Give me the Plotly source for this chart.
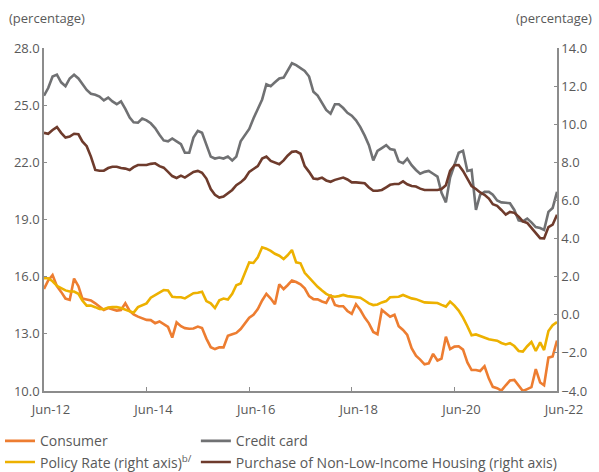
import pandas as pd
import plotly.graph_objects as go

# monthly, Jun-2012 .. Jun-2022
dates = pd.date_range("2012-06-01", periods=121, freq="MS")

# left axis (%)
consumer = [15.35, 15.8, 16.08, 15.5, 15.2, 14.85, 14.78, 15.9, 15.5, 14.85,
            14.8, 14.75, 14.6, 14.43, 14.25, 14.35, 14.3, 14.22, 14.25, 14.6,
            14.2, 14.02, 13.9, 13.8, 13.73, 13.72, 13.56, 13.65, 13.5, 13.36,
            12.8, 13.6, 13.4, 13.3, 13.27, 13.28, 13.38, 13.3, 12.75, 12.3,
            12.2, 12.29, 12.29, 12.9, 12.98, 13.05, 13.25, 13.55, 13.85, 14.0,
            14.3, 14.75, 15.1, 14.85, 14.55, 15.6, 15.35, 15.55, 15.8, 15.72,
            15.6, 15.39, 14.98, 14.82, 14.81, 14.7, 14.62, 15.05, 14.52, 14.45,
            14.45, 14.2, 14.05, 14.55, 14.25, 13.85, 13.55, 13.1, 12.98, 14.25,
            14.05, 13.9, 14.0, 13.4, 13.2, 12.94, 12.25, 11.85, 11.65, 11.4,
            11.45, 11.95, 11.6, 11.7, 12.85, 12.2, 12.33, 12.35, 12.17, 11.5,
            11.1, 11.1, 11.05, 11.3, 10.65, 10.22, 10.15, 10.02, 10.3, 10.55,
            10.58, 10.3, 10.0, 10.1, 10.2, 11.15, 10.45, 10.3, 11.75, 11.81,
            12.65]

credit_card = [25.5, 25.9, 26.5, 26.6, 26.2, 26.0, 26.4, 26.6, 26.4, 26.1,
               25.8, 25.6, 25.55, 25.45, 25.25, 25.4, 25.2, 25.05, 25.2, 24.8,
               24.35, 24.1, 24.08, 24.3, 24.2, 24.05, 23.8, 23.45, 23.15, 23.1,
               23.25, 23.1, 22.95, 22.5, 22.5, 23.3, 23.65, 23.55, 22.9, 22.3,
               22.2, 22.25, 22.2, 22.3, 22.1, 22.3, 23.1, 23.45, 23.75, 24.3,
               24.8, 25.3, 26.1, 26.0, 26.2, 26.4, 26.45, 26.8, 27.2, 27.1,
               26.95, 26.8, 26.5, 25.7, 25.5, 25.1, 24.75, 24.55, 25.05, 25.05,
               24.85, 24.6, 24.45, 24.2, 23.85, 23.4, 22.9, 22.1, 22.6, 22.75,
               22.9, 22.7, 22.65, 22.05, 21.95, 22.2, 21.85, 21.6, 21.4, 21.5,
               21.55, 21.4, 21.25, 20.4, 19.9, 21.2, 21.9, 22.5, 22.6, 21.55,
               21.6, 19.5, 20.3, 20.45, 20.45, 20.3, 20.0, 19.9, 19.88, 19.85,
               19.5, 18.95, 18.9, 19.05, 18.85, 18.6, 18.55, 18.45, 19.4, 19.6,
               20.45]

# right axis (%)
policy_rate = [1.92, 1.92, 1.76, 1.52, 1.4, 1.28, 1.22, 1.22, 1.1, 0.75,
               0.48, 0.48, 0.4, 0.31, 0.29, 0.38, 0.4, 0.4, 0.36, 0.28,
               0.2, 0.11, 0.4, 0.48, 0.6, 0.9, 1.05, 1.2, 1.3, 1.27,
               0.95, 0.92, 0.92, 0.86, 1.0, 1.13, 1.16, 1.21, 0.72, 0.6,
               0.35, 0.76, 0.85, 0.8, 1.1, 1.55, 1.64, 2.15, 2.75, 2.72,
               3.02, 3.54, 3.47, 3.35, 3.2, 3.1, 2.93, 3.12, 3.4, 2.75,
               2.7, 2.2, 1.95, 1.7, 1.47, 1.27, 1.1, 0.98, 0.95, 0.98,
               1.04, 0.98, 0.95, 0.93, 0.9, 0.75, 0.6, 0.51, 0.54, 0.65,
               0.72, 0.92, 0.92, 0.95, 1.04, 0.93, 0.86, 0.82, 0.73, 0.65,
               0.64, 0.64, 0.62, 0.52, 0.43, 0.69, 0.48, 0.22, -0.15, -0.6,
               -1.08, -1.03, -1.12, -1.21, -1.28, -1.32, -1.36, -1.48, -1.56, -1.49,
               -1.64, -1.9, -1.93, -1.65, -1.43, -1.9, -1.45, -1.85, -0.85, -0.55,
               -0.38]

housing = [9.55, 9.5, 9.7, 9.85, 9.55, 9.3, 9.35, 9.5, 9.47, 9.1,
           8.85, 8.3, 7.6, 7.56, 7.56, 7.7, 7.77, 7.77, 7.7, 7.67,
           7.6, 7.75, 7.86, 7.86, 7.86, 7.92, 7.95, 7.8, 7.72, 7.5,
           7.28, 7.18, 7.3, 7.2, 7.35, 7.5, 7.55, 7.45, 7.15, 6.6,
           6.3, 6.15, 6.2, 6.4, 6.55, 6.8, 6.95, 7.15, 7.5, 7.65,
           7.8, 8.2, 8.3, 8.07, 7.98, 7.9, 8.1, 8.35, 8.55, 8.58,
           8.45, 7.8, 7.5, 7.15, 7.12, 7.2, 7.05, 6.98, 7.08, 7.12,
           7.2, 7.1, 6.95, 6.95, 6.93, 6.9, 6.68, 6.51, 6.51, 6.55,
           6.69, 6.82, 6.86, 6.86, 7.0, 6.85, 6.76, 6.73, 6.62, 6.55,
           6.55, 6.55, 6.55, 6.6, 6.8, 7.55, 7.85, 7.86, 7.55, 7.15,
           6.75, 6.6, 6.42, 6.3, 6.1, 5.8, 5.72, 5.5, 5.26, 5.4,
           5.35, 5.15, 4.9, 4.82, 4.55, 4.3, 4.02, 4.01, 4.6, 4.73,
           5.25]

FONT = "Open Sans"
TXT = "#595959"
AX = "#8c8c8c"

fig = go.Figure()

fig.add_trace(go.Scatter(x=dates, y=consumer, name="Consumer", mode="lines",
                         line=dict(color="#ED7D31", width=2.6), legend="legend"))
fig.add_trace(go.Scatter(x=dates, y=policy_rate, name="Policy Rate (right axis)<sup>b/</sup>",
                         mode="lines", yaxis="y2",
                         line=dict(color="#EDB100", width=2.6), legend="legend"))
fig.add_trace(go.Scatter(x=dates, y=credit_card, name="Credit card", mode="lines",
                         line=dict(color="#707173", width=2.6), legend="legend2"))
fig.add_trace(go.Scatter(x=dates, y=housing, name="Purchase of Non-Low-Income Housing (right axis)",
                         mode="lines", yaxis="y2",
                         line=dict(color="#6E3B2C", width=2.6), legend="legend2"))

fig.update_layout(
    width=599, height=472,
    margin=dict(l=44, r=42, t=48, b=81, autoexpand=False),
    plot_bgcolor="white", paper_bgcolor="white",
    font=dict(family=FONT, size=13, color=TXT),
    xaxis=dict(type="date", range=["2012-06-01", "2022-06-01"],
               tick0="2012-06-01", dtick="M24", tickformat="%b-%y",
               showgrid=False, zeroline=False, showline=True, linecolor=AX, linewidth=1.5,
               ticks="inside", ticklen=4, tickcolor=AX, ticklabelshift=7,
               ticklabelstandoff=6, automargin=False, tickfont=dict(size=13, color=TXT)),
    yaxis=dict(range=[10, 28], tick0=10, dtick=3, tickformat=".1f", showgrid=False,
               zeroline=False, showline=True, linecolor=AX, linewidth=1.5, ticks="inside",
               ticklen=3, tickcolor=AX, automargin=False, tickfont=dict(size=13, color=TXT)),
    yaxis2=dict(range=[-4, 14], tick0=-4, dtick=2, tickformat=".1f", overlaying="y",
                side="right", showgrid=False, zeroline=False, showline=True, linecolor=AX,
                linewidth=1.5, ticks="inside", ticklen=3, tickcolor=AX, automargin=False,
                tickfont=dict(size=13, color=TXT)),
    legend=dict(xref="container", yref="container", x=0.0, y=0.099,
                xanchor="left", yanchor="top", bgcolor="rgba(0,0,0,0)",
                font=dict(size=14, color=TXT), itemwidth=30, tracegroupgap=0),
    legend2=dict(xref="container", yref="container", x=0.327, y=0.099,
                 xanchor="left", yanchor="top", bgcolor="rgba(0,0,0,0)",
                 font=dict(size=14, color=TXT), itemwidth=30, tracegroupgap=0),
    annotations=[
        dict(text="(percentage)", xref="paper", yref="paper", x=-0.072, y=1.0875,
             xanchor="left", yanchor="middle", showarrow=False, font=dict(size=13, color=TXT)),
        dict(text="(percentage)", xref="paper", yref="paper", x=1.072, y=1.0875,
             xanchor="right", yanchor="middle", showarrow=False, font=dict(size=13, color=TXT)),
    ],
)

# drop the default page margin so the 599x472 figure fills the window exactly
fig.write_html("out.html", config={"displayModeBar": False},
               post_script="document.body.style.margin='0';")
